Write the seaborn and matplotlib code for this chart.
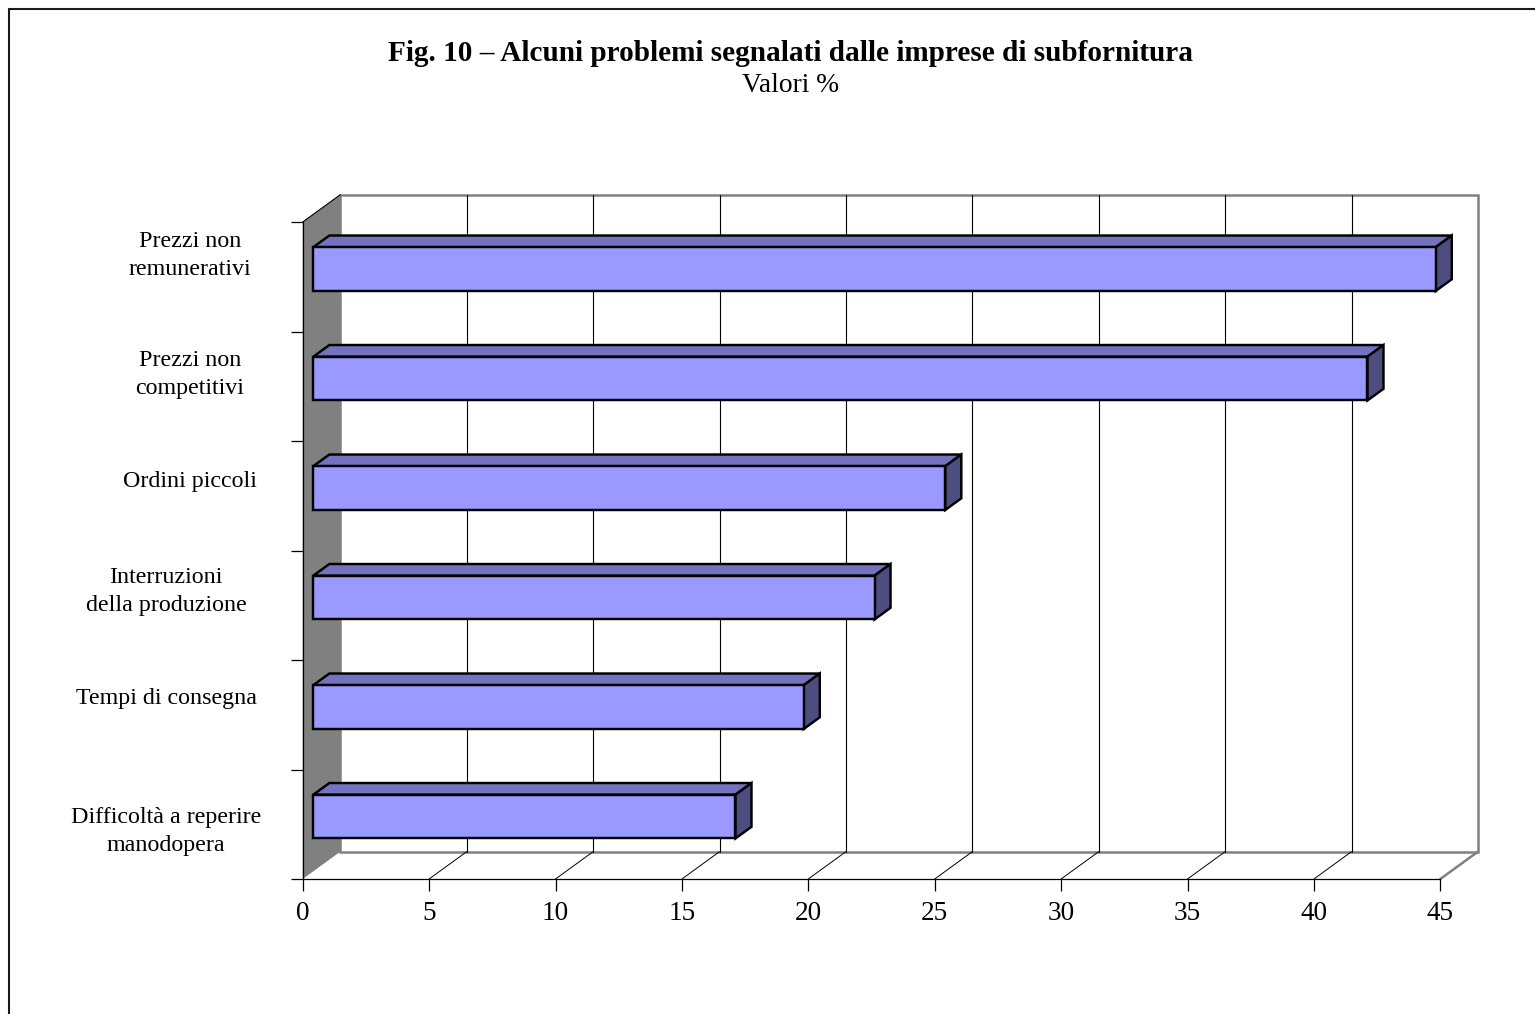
import numpy as np
import pandas as pd
import matplotlib
matplotlib.use("Agg")
import matplotlib.pyplot as plt
from matplotlib.transforms import ScaledTranslation, IdentityTransform
from matplotlib.patches import Polygon, Rectangle
from matplotlib.lines import Line2D
import seaborn as sns

# ---- data -------------------------------------------------------------
categories = [
    "Prezzi non\nremunerativi",
    "Prezzi non\ncompetitivi",
    "Ordini piccoli",
    "Interruzioni\ndella produzione",
    "Tempi di consegna",
    "Difficoltà a reperire\nmanodopera",
]
values = [44.4, 41.7, 25.0, 22.2, 19.4, 16.7]
x_ticks = [0, 5, 10, 15, 20, 25, 30, 35, 40, 45]
title = "Fig. 10 \u2013 Alcuni problemi segnalati dalle imprese di subfornitura"
subtitle = "Valori %"

# ---- layout / style ---------------------------------------------------
W, H, DPI = 1535, 1014, 100
FS = 17.3                      # category labels, points
FS_TICK = 19.6
FS_TITLE = 21.1
FS_SUB = 19.8
BAR_LW = 1.75
FRONT_FACE = "#9999FF"
TOP_FACE = "#7373BF"
SIDE_FACE = "#4D4D80"
WALL_GREY = "#808080"
DX, DY = 37.6, 27.3            # depth of the 3-D box, pixels
F0, F1 = 0.282, 0.708          # depth fraction of bar front / back

sns.set_style("white")
plt.rcParams["font.family"] = ["Liberation Serif", "DejaVu Serif"]

fig = plt.figure(figsize=(W / DPI, H / DPI), dpi=DPI)
fig.patch.set_facecolor("white")


def fx(x):
    return x / W


def fy(y):
    return 1 - y / H


ax = fig.add_axes([fx(302.7), fy(879), fx(1440.3) - fx(302.7), fy(222) - fy(879)])
ax.patch.set_alpha(0)

df = pd.DataFrame({"problema": categories, "valore": values})
sns.barplot(data=df, x="valore", y="problema", orient="h", color=FRONT_FACE,
            saturation=1, width=0.40, edgecolor="black", linewidth=BAR_LW, ax=ax)
bars = list(ax.patches)

ax.set_xlim(0, 45)
ax.set_ylim(len(categories) - 0.5, -0.5)
ax.set_xlabel("")
ax.set_ylabel("")


def depth(frac):
    return ScaledTranslation(frac * DX / DPI, frac * DY / DPI, fig.dpi_scale_trans)


def pt(x, y, frac):
    p = ax.transData.transform((x, y))
    return (p[0] + frac * DX, p[1] + frac * DY)


y_lo, y_hi = -0.5, len(categories) - 0.5
back = ax.transData + depth(1.0)

# back wall with gridlines
ax.add_patch(Rectangle((0, y_lo), 45, y_hi - y_lo, transform=back, fc="white",
                       ec=WALL_GREY, lw=1.8, clip_on=False, zorder=0.5))
for t in x_ticks[1:-1]:
    ax.add_line(Line2D([t, t], [y_lo, y_hi], transform=back, color="black",
                       lw=0.8, clip_on=False, zorder=0.7))

# side wall
ax.add_patch(Polygon([pt(0, y_hi, 0), pt(0, y_lo, 0), pt(0, y_lo, 1), pt(0, y_hi, 1)],
                     closed=True, transform=IdentityTransform(), fc=WALL_GREY,
                     ec="none", clip_on=False, zorder=0.6))
p_a, p_b = pt(0, y_lo, 0), pt(0, y_lo, 1)
ax.add_line(Line2D([p_a[0], p_b[0]], [p_a[1], p_b[1]], transform=IdentityTransform(),
                   color="black", lw=0.8, clip_on=False, zorder=0.7))

# floor lines
for t in x_ticks[1:-1]:
    a, b = pt(t, y_hi, 0), pt(t, y_hi, 1)
    ax.add_line(Line2D([a[0], b[0]], [a[1], b[1]], transform=IdentityTransform(),
                       color="black", lw=0.7, clip_on=False, zorder=0.7))
a, b = pt(45, y_hi, 0), pt(45, y_hi, 1)
ax.add_line(Line2D([a[0], b[0]], [a[1], b[1]], transform=IdentityTransform(),
                   color=WALL_GREY, lw=1.8, clip_on=False, zorder=0.7))

# 3-D bars: seaborn front faces moved into depth, plus top and side faces
for p in bars:
    x0, y0, w, h = p.get_x(), p.get_y(), p.get_width(), p.get_height()
    ytop, ybot = min(y0, y0 + h), max(y0, y0 + h)
    p.set_transform(ax.transData + depth(F0))
    p.set_clip_on(False)
    p.set_zorder(4)
    p.set_joinstyle("miter")
    top = Polygon([pt(x0, ytop, F0), pt(x0 + w, ytop, F0), pt(x0 + w, ytop, F1), pt(x0, ytop, F1)],
                  closed=True, transform=IdentityTransform(), fc=TOP_FACE, ec="black",
                  lw=BAR_LW, joinstyle="miter", clip_on=False, zorder=3)
    side = Polygon([pt(x0 + w, ytop, F0), pt(x0 + w, ybot, F0), pt(x0 + w, ybot, F1), pt(x0 + w, ytop, F1)],
                   closed=True, transform=IdentityTransform(), fc=SIDE_FACE, ec="black",
                   lw=BAR_LW, joinstyle="miter", clip_on=False, zorder=3)
    ax.add_patch(top)
    ax.add_patch(side)

# axes, ticks
for s in ["top", "right"]:
    ax.spines[s].set_visible(False)
for s in ["left", "bottom"]:
    ax.spines[s].set_color("black")
    ax.spines[s].set_linewidth(0.9)
ax.set_xticks(x_ticks)
ax.set_xticklabels([str(t) for t in x_ticks])
ax.set_yticks(np.arange(y_lo, y_hi + 0.01, 1.0))
ax.set_yticklabels([])
ax.tick_params(axis="both", which="major", bottom=True, left=True, direction="out",
               length=8.6, width=0.9, color="black")
ax.tick_params(axis="x", labelsize=FS_TICK, pad=7.5, labelcolor="black")
ax.grid(False)

# category labels, one text per line
label_centers = [(190, 239), (190, 358), (190, 479), (166, 575), (166, 696), (166, 815)]
LINE_PITCH = 28
for lab, (cx, cy) in zip(categories, label_centers):
    for i, line in enumerate(lab.split("\n")):
        fig.text(fx(cx), fy(cy + 8 + i * LINE_PITCH), line, ha="center", va="baseline",
                 fontsize=FS, color="black")

# titles
fig.text(fx(790.5), fy(61), title, ha="center", va="baseline", fontsize=FS_TITLE,
         fontweight="bold", color="black")
fig.text(fx(790.5), fy(92), subtitle, ha="center", va="baseline", fontsize=FS_SUB,
         color="black")

# page frame
fig.add_artist(Line2D([fx(8.5), 1.0], [fy(9), fy(9)], transform=fig.transFigure,
                      color="#1a1a1a", lw=1.5))
fig.add_artist(Line2D([fx(8.5), fx(8.5)], [0.0, fy(9)], transform=fig.transFigure,
                      color="#1a1a1a", lw=1.5))

fig.savefig("out.png", dpi=DPI)
